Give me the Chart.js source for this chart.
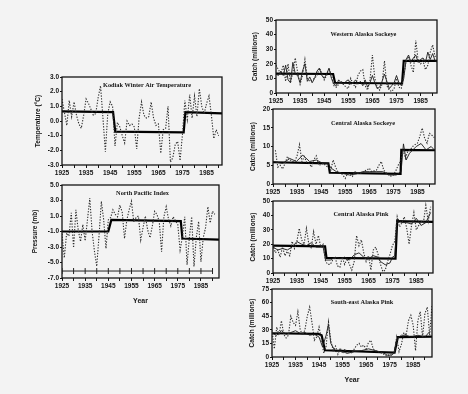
<!DOCTYPE html>
<html>
<head>
<meta charset="utf-8">
<script src="https://cdn.jsdelivr.net/npm/chart.js@4.4.1/dist/chart.umd.min.js"></script>
<style>
  body { margin: 0; background: #f3f3f3; }
  #page { position: relative; width: 468px; height: 394px; overflow: hidden; background: #f3f3f3; }
  #page canvas { position: absolute; }
</style>
</head>
<body>
<div id="page"></div>
<script>
// x axis: every 5 years, labels every 10
const labelYears = [1925, 1935, 1945, 1955, 1965, 1975, 1985];

// Kodiak winter air temperature (°C), 1925-1990
const kodiakStart = 1925;
const kodiakTemp = [
  1.5, 0.6, -0.3, 1.4, 0.3, 1.3, 0.4, -0.2, -0.5, 0.4,
  1.5, 1.2, 0.8, 0.4, 0.5, 1.6, 2.4, 0.2, -2.1, 0.5,
  1.3, 1.0, -1.7, -0.1, -0.4, -1.0, -1.5, 0.0, -0.3, -0.2,
  -0.4, -1.9, 0.2, 1.3, 0.4, 0.2, 0.3, 1.3, 0.2, -0.3,
  -0.2, -2.2, -0.6, -0.5, 1.0, -2.8, -2.5, -1.6, -1.4, -2.7,
  -0.9, 1.4, 0.1, 1.8, 0.2, 1.7, 0.3, 2.2, 1.0, 0.5,
  1.2, 1.7, 0.4, -1.2, -0.6, -1.0
];
const kodiakRegimes = [[1925, 0.65], [1946.2, 0.6], [1947.1, -0.72], [1975.5, -0.78], [1976.2, 0.6], [1991.4, 0.52]];

// North Pacific Index (mb anomaly), 1925-1991
const npiStart = 1925;
const npiValues = [
  -1.3, -4.4, -1.2, -1.6, 1.4, -3.1, 1.8, -0.8, -2.3, -0.1,
  -2.2, 0.5, 3.3, -1.0, -3.5, -5.5, -1.5, 2.9, 0.5, -3.2,
  0.5, 0.8, 1.8, 1.2, 0.9, 2.4, 1.5, -1.9, 0.5, 1.8,
  2.9, 0.2, 0.8, 1.0, -2.1, -0.5, 1.0, -0.8, -1.8, -0.3,
  1.6, 1.2, 0.3, -3.6, 0.9, 2.2, 0.6, -0.3, 0.9, 0.4,
  -0.1, -3.4, -1.7, 0.9, -5.3, -1.8, 0.9, -5.5, -1.8, 0.3,
  -4.9, -1.8, -0.5, 2.2, 0.1, 1.6, 1.2
];
const npiRegimes = [[1925, -1.0], [1945, -1.0], [1946.3, 0.5], [1976.3, 0.35], [1977, -1.9], [1992.8, -2.05]];
const npiBaseLevel = -6.1;
const npiBaseYears = [1925, 1930, 1935, 1940, 1945, 1950, 1955, 1960, 1965, 1970, 1975, 1980, 1985, 1990];

// Western Alaska sockeye catch (millions), 1925-1992
const westSockStart = 1925;
const westSockCatch = [
  19, 16, 13, 19, 8, 20, 7, 14, 24, 14,
  6, 12, 23, 10, 8, 9, 10, 12, 17, 14,
  9, 12, 17, 12, 5, 4, 6, 8, 6, 4,
  3, 10, 6, 4, 12, 15, 16, 5, 2, 9,
  26, 10, 4, 2, 6, 22, 5, 2, 1, 3,
  10, 4, 3, 12, 22, 25, 19, 14, 36, 22,
  20, 22, 16, 19, 28, 33, 25, 26
];
const westSockFit = [
  13, 12, 15, 12, 19, 9, 7, 21, 13, 12,
  7, 15, 20, 8, 11, 7, 10, 15, 17, 12,
  10, 13, 17, 10, 6, 5, 9, 7, 6, 8,
  9, 6, 7, 9, 6, 8, 5, 9, 4, 7,
  12, 7, 3, 4, 8, 13, 8, 3, 5, 7,
  12, 7, 5, 10, 23, 26, 21, 24, 26, 21,
  23, 24, 21, 28, 23, 27, 22, 21
];
const westSockRegimes = [[1925, 13.3], [1948.7, 13], [1949.5, 7], [1977.3, 6.5], [1978, 22], [1992, 22]];

// Central Alaska sockeye catch (millions), 1926-1992
const centSockStart = 1926;
const centSockCatch = [
  9, 4.5, 5, 4, 5.5, 7.3, 6.5, 6, 6, 7.5,
  10.5, 6, 7.3, 5.8, 5.5, 4.5, 6.5, 7.5, 5, 5.2,
  5.5, 4.8, 4.5, 3.7, 6.4, 4.5, 3.2, 3, 2.4, 1.5,
  2.8, 2.5, 2, 3.3, 3, 2.9, 2.9, 3.5, 3.7, 4.2,
  3.3, 3.5, 3.7, 5, 6, 3.7, 3, 2.4, 2.1, 2.4,
  3.5, 5, 6, 9.1, 6.9, 8.7, 9.1, 10, 10.5, 10.9,
  12.7, 14.9, 12.2, 10.9, 13.5, 13, 12.4
];
const centSockFit = [
  [1925, 6.0], [1929, 5.5], [1932, 6.8], [1934.7, 6.0], [1937.4, 7.7], [1940.2, 6.0], [1943, 6.4],
  [1945.7, 5.5], [1947.8, 5.5], [1949.2, 4.2], [1951.3, 3.3], [1954, 2.8], [1956.8, 2.4], [1959.6, 2.7],
  [1962.3, 3.3], [1965.1, 3.3], [1967.9, 3.3], [1970.6, 3.3], [1973.4, 2.4], [1976.2, 2.4], [1978.2, 3.3],
  [1979.2, 10.7], [1980.3, 6.4], [1981.7, 8.2], [1983.1, 9.1], [1984.5, 10], [1986.5, 10.8],
  [1988.6, 9.1], [1990.7, 10], [1992, 9.1]
];
const centSockRegimes = [[1925, 5.8], [1948, 5.5], [1948.6, 3.0], [1978, 2.7], [1978.3, 9.1], [1992.3, 9]];

// Central Alaska pink catch (millions), 1925-1991
const centPinkStart = 1925;
const centPinkCatch = [
  19.5, 14, 16, 11, 18, 12, 15, 12, 22, 17,
  22, 31, 23, 20, 31, 20, 17, 28.7, 20, 26,
  18, 20, 8, 6, 6, 9, 11, 5, 4, 11,
  6, 10, 6, 2, 8, 26, 19, 23, 14, 8,
  12, 2, 16, 18, 13, 6, 1, 2, 8, 13,
  19, 22, 39, 32, 35, 39, 31, 20, 33, 42,
  30, 33, 36, 35, 47, 36, 46
];
const centPinkFit = [
  [1925, 18], [1927, 16], [1929, 17], [1931, 16], [1933, 18], [1935, 21.8], [1937, 20], [1939, 19],
  [1941, 21], [1943, 18], [1945, 18], [1946, 18], [1947, 9], [1949, 9], [1951, 11], [1953, 10],
  [1955, 11], [1957, 9], [1959, 12.6], [1961, 14], [1963, 11], [1965, 10], [1967, 12], [1969, 11],
  [1970, 8], [1972, 5.7], [1974, 7], [1975, 11], [1976, 12], [1977, 37.8], [1979, 35], [1981, 35],
  [1983, 34], [1985, 38], [1987, 33], [1989, 35], [1991, 42]
];
const centPinkRegimes = [[1925, 19], [1946.8, 18.5], [1947.4, 10.5], [1976.3, 10], [1977, 36], [1992, 35.5]];

// South-east Alaska pink catch (millions), 1925-1993
const sePinkStart = 1925;
const sePinkCatch = [
  29.5, 9, 33, 24, 40, 25, 21, 24, 45, 38,
  35, 50, 30, 24, 30, 45, 55, 38, 18.5, 22,
  33, 20, 4, 12, 38.7, 18, 7, 12, 3, 10,
  4, 9, 4, 6, 4, 9, 13, 15, 11, 13,
  9, 16, 18.5, 9, 7, 6, 5, 4, 2, 1,
  3, 3, 5, 22, 6, 14, 27, 24, 40, 46,
  35, 7, 40, 50, 22, 48, 55, 24, 57
];
const sePinkFit = [
  [1925, 26], [1927, 24], [1929, 29], [1931, 25], [1933, 27], [1935, 29], [1937, 26], [1939, 27],
  [1941, 24], [1943, 25], [1945, 22], [1946.5, 11], [1948, 24], [1949, 36], [1950, 15], [1952, 6],
  [1954, 7], [1957, 4], [1960, 6], [1963, 7], [1966, 9], [1969, 7], [1972, 5], [1974, 2], [1976, 2],
  [1977, 5], [1978, 20], [1980, 24], [1982, 24], [1984, 22], [1987, 24], [1990, 22], [1992, 28]
];
const sePinkRegimes = [[1925, 26.2], [1944.7, 25.5], [1946.1, 24], [1947.5, 7.4], [1977.1, 4.8], [1978.5, 22], [1993, 22.5]];

const ink = '#141414';

function byYear(start, vals) {
  return vals.map((v, i) => ({ x: start + i, y: v }));
}
function fromPairs(list) {
  return list.map(p => ({ x: p[0], y: p[1] }));
}

const lineStyles = {
  raw: { borderColor: '#2e2e2e', borderWidth: 1.1, borderDash: [1.3, 1.5], pointRadius: 0 },
  fit: { borderColor: '#1a1a1a', borderWidth: 0.9, pointRadius: 0 },
  regime: { borderColor: '#000', borderWidth: 2.2, pointRadius: 0 },
  base: { borderColor: '#222', borderWidth: 1, pointStyle: 'line', rotation: 90, pointRadius: 3, pointBorderWidth: 1, pointBorderColor: '#222' }
};

const fmt1 = v => v.toFixed(1);
const fmt0 = v => String(v);

const panels = [
  { L: 62, T: 77, R: 222, B: 165, xMax: 1991.4, yMin: -3, yMax: 3, yStep: 1, yFmt: fmt1,
    yTitle: 'Temperature (°C)', yGap: 24, title: 'Kodiak Winter Air Temperature', tdx: 5, tdy: 8, xh: 14,
    series: [['raw', byYear(kodiakStart, kodiakTemp)], ['regime', fromPairs(kodiakRegimes)]] },
  { L: 62, T: 185, R: 220, B: 278, xMax: 1992.8, yMin: -7, yMax: 5, yStep: 2, yFmt: fmt1,
    yTitle: 'Pressure (mb)', yGap: 27, title: 'North Pacific Index', tdx: 2, tdy: 8, xh: 28, xTitle: 'Year',
    series: [['raw', byYear(npiStart, npiValues)], ['regime', fromPairs(npiRegimes)],
             ['base', npiBaseYears.map(y => ({ x: y, y: npiBaseLevel }))]] },
  { L: 276, T: 20, R: 437, B: 93, xMax: 1991.8, yMin: 0, yMax: 50, yStep: 10, yFmt: fmt0,
    yTitle: 'Catch (millions)', yGap: 21, title: 'Western Alaska Sockeye', tdx: 7, tdy: 14, xh: 14,
    series: [['raw', byYear(westSockStart, westSockCatch)], ['fit', byYear(westSockStart, westSockFit)],
             ['regime', fromPairs(westSockRegimes)]] },
  { L: 273, T: 109, R: 435, B: 184, xMax: 1992.3, yMin: 0, yMax: 20, yStep: 5, yFmt: fmt0,
    yTitle: 'Catch (millions)', yGap: 20, title: 'Central Alaska Sockeye', tdx: 9, tdy: 14, xh: 14,
    series: [['raw', byYear(centSockStart, centSockCatch)], ['fit', fromPairs(centSockFit)],
             ['regime', fromPairs(centSockRegimes)]] },
  { L: 273, T: 201, R: 433, B: 273, xMax: 1992, yMin: 0, yMax: 50, yStep: 10, yFmt: fmt0,
    yTitle: 'Catch (millions)', yGap: 20, title: 'Central Alaska Pink', tdx: 8, tdy: 13, xh: 14,
    series: [['raw', byYear(centPinkStart, centPinkCatch)], ['fit', fromPairs(centPinkFit)],
             ['regime', fromPairs(centPinkRegimes)]] },
  { L: 272, T: 289, R: 432, B: 357, xMax: 1993, yMin: 0, yMax: 75, yStep: 15, yFmt: fmt0,
    yTitle: 'Catch (millions)', yGap: 20, title: 'South-east Alaska Pink', tdx: 10, tdy: 13, xh: 28, xTitle: 'Year',
    series: [['raw', byYear(sePinkStart, sePinkCatch)], ['fit', fromPairs(sePinkFit)],
             ['regime', fromPairs(sePinkRegimes)]] }
];

const tickFont = { family: 'Liberation Sans, Arial, sans-serif', size: 6.5, weight: 'bold' };
const axisTitleFont = { family: 'Liberation Sans, Arial, sans-serif', size: 6.5, weight: 'bold' };

// frame around the plot area + panel title inside it
const framePlugin = {
  id: 'frame',
  afterDraw(chart) {
    const a = chart.chartArea;
    const p = chart.options.plugins.frame;
    const ctx = chart.ctx;
    ctx.save();
    ctx.strokeStyle = ink;
    ctx.lineWidth = 1.3;
    ctx.strokeRect(a.left, a.top, a.right - a.left, a.bottom - a.top);
    ctx.fillStyle = ink;
    ctx.font = 'bold 6.3px "Liberation Serif", "Times New Roman", serif';
    ctx.textAlign = 'center';
    ctx.textBaseline = 'middle';
    ctx.fillText(p.title, (a.left + a.right) / 2 + p.tdx, a.top + p.tdy);
    ctx.restore();
  }
};

function zeroPad(s) {
  s.paddingLeft = 0; s.paddingRight = 0; s.paddingTop = 0; s.paddingBottom = 0;
}

const page = document.getElementById('page');
const yw = 30, padT = 6, padR = 4;

panels.forEach(function(p) {
  const cv = document.createElement('canvas');
  cv.width = yw + (p.R - p.L) + padR;
  cv.height = padT + (p.B - p.T) + p.xh;
  cv.style.left = (p.L - yw) + 'px';
  cv.style.top = (p.T - padT) + 'px';
  page.appendChild(cv);

  const titleLh = axisTitleFont.size * 1.2;

  new Chart(cv, {
    type: 'line',
    data: {
      datasets: p.series.map(s => Object.assign({ data: s[1], fill: false, tension: 0 }, lineStyles[s[0]],
        s[0] === 'base' ? { showLine: true } : {}))
    },
    options: {
      responsive: false,
      animation: false,
      devicePixelRatio: 1,
      layout: { padding: { top: padT, right: padR, left: 0, bottom: 0 } },
      plugins: {
        legend: { display: false },
        tooltip: { enabled: false },
        frame: { title: p.title, tdx: p.tdx, tdy: p.tdy }
      },
      scales: {
        x: {
          type: 'linear',
          min: 1925,
          max: p.xMax,
          border: { display: false },
          grid: { drawOnChartArea: false, tickLength: 3, color: ink, lineWidth: 1 },
          ticks: {
            stepSize: 5, includeBounds: false, autoSkip: false, maxRotation: 0, padding: 1,
            color: ink, font: tickFont,
            callback: v => labelYears.includes(v) ? String(v) : ''
          },
          title: {
            display: !!p.xTitle, text: p.xTitle || '', color: ink,
            font: { family: 'Liberation Sans, Arial, sans-serif', size: 7, weight: 'bold' },
            padding: { top: 0, bottom: 1 }
          },
          afterFit: s => { s.height = p.xh; zeroPad(s); }
        },
        y: {
          min: p.yMin,
          max: p.yMax,
          border: { display: false },
          grid: { drawOnChartArea: false, tickLength: 2, color: ink, lineWidth: 1 },
          ticks: { stepSize: p.yStep, padding: 1, color: ink, font: tickFont, callback: v => p.yFmt(v) },
          title: {
            display: true, text: p.yTitle, color: ink, font: axisTitleFont,
            padding: { top: yw - p.yGap - titleLh / 2, bottom: 0 }
          },
          afterFit: s => { s.width = yw; zeroPad(s); }
        }
      }
    },
    plugins: [framePlugin]
  });
});
</script>
</body>
</html>
